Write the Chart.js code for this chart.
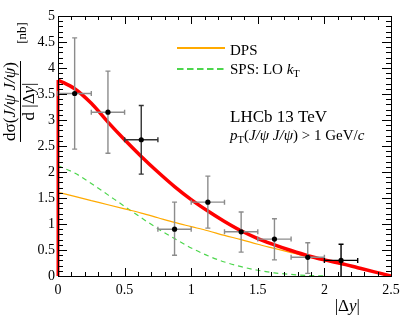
<!DOCTYPE html>
<html>
<head>
<meta charset="utf-8">
<script src="https://cdn.jsdelivr.net/npm/chart.js@4.4.0/dist/chart.umd.min.js"></script>
<style>
  html, body { margin: 0; padding: 0; background: #fff; }
  canvas { display: block; }
</style>
</head>
<body>
<canvas id="chart" width="412" height="329"></canvas>
<script>
// measured points: bin centres in |dy|, cross-section [nb] and error band
const binCentres = [0.125, 0.375, 0.625, 0.875, 1.125, 1.375, 1.625, 1.875, 2.125];
const binHalfWidth = 0.125;
const crossSection = [3.51, 3.15, 2.62, 0.90, 1.42, 0.85, 0.71, 0.36, 0.30];
const errHigh = [4.58, 3.94, 3.28, 1.42, 1.92, 1.23, 1.10, 0.64, 0.61];
const errLow = [2.44, 2.36, 1.96, 0.40, 0.92, 0.46, 0.31, 0.05, 0.00];

// theory curves, sampled on the same grid
const curveX = [0, 0.125, 0.25, 0.375, 0.5, 0.625, 0.75, 0.875, 1.0, 1.125, 1.25,
                1.375, 1.5, 1.625, 1.75, 1.875, 2.0, 2.125, 2.25, 2.375, 2.5];
const totalCurve = [3.77, 3.60, 3.32, 2.96, 2.62, 2.30, 2.00, 1.72, 1.47, 1.25, 1.05,
                    0.87, 0.72, 0.60, 0.49, 0.39, 0.31, 0.24, 0.16, 0.08, 0.00];
const dpsCurve = [1.61, 1.53, 1.45, 1.37, 1.29, 1.21, 1.12, 1.03, 0.95, 0.87, 0.78,
                  0.70, 0.61, 0.53, 0.45, 0.37, 0.30, 0.23, 0.15, 0.08, 0.00];
const spsCurve = [2.12, 1.98, 1.78, 1.56, 1.34, 1.12, 0.91, 0.72, 0.54, 0.39, 0.27,
                  0.18, 0.11, 0.06, 0.03, 0.01, 0.00];

const legendLabels = ['DPS', 'SPS: LO '];

const COLORS = {
    total: '#ff0000',
    dps: '#ffaa00',
    sps: '#4cd64c',
    errGray: '#8c8c8c',
    errDark: '#333333',
    black: '#000000'
};
const errColours = binCentres.map((c, i) => (i === 2 ? COLORS.errDark : i === binCentres.length - 1 ? COLORS.black : COLORS.errGray));

const SERIF = '"Liberation Serif", "DejaVu Serif", serif';

function toPoints(xs, ys) {
    return ys.map((v, i) => ({ x: xs[i], y: v }));
}

// rich text: parts = [[text, style]], style has 'i' for italic, 's' for subscript
function richWidth(ctx, parts, size) {
    let w = 0;
    parts.forEach(([t, st]) => {
        const fs = st.includes('s') ? size * 0.7 : size;
        ctx.font = (st.includes('i') ? 'italic ' : '') + fs + 'px ' + SERIF;
        w += ctx.measureText(t).width;
    });
    return w;
}

function drawRich(ctx, parts, x, y, size) {
    let cx = x;
    parts.forEach(([t, st]) => {
        const sub = st.includes('s');
        const fs = sub ? size * 0.7 : size;
        ctx.font = (st.includes('i') ? 'italic ' : '') + fs + 'px ' + SERIF;
        ctx.fillText(t, cx, y + (sub ? size * 0.22 : 0));
        cx += ctx.measureText(t).width;
    });
}

const errorBarPlugin = {
    id: 'errorBars',
    beforeDatasetDraw(chart, args) {
        if (args.index !== 0) return;
        const { ctx, scales: { x, y } } = chart;
        ctx.save();
        ctx.lineWidth = 1.4;
        binCentres.forEach((c, i) => {
            const px = x.getPixelForValue(c);
            const py = y.getPixelForValue(crossSection[i]);
            const x0 = x.getPixelForValue(c - binHalfWidth);
            const x1 = x.getPixelForValue(c + binHalfWidth);
            const yTop = y.getPixelForValue(errHigh[i]);
            const yBot = y.getPixelForValue(errLow[i]);
            ctx.strokeStyle = errColours[i];
            ctx.beginPath();
            ctx.moveTo(x0, py); ctx.lineTo(x1, py);
            ctx.moveTo(px, yTop); ctx.lineTo(px, yBot);
            ctx.moveTo(x0, py - 2.5); ctx.lineTo(x0, py + 2.5);
            ctx.moveTo(x1, py - 2.5); ctx.lineTo(x1, py + 2.5);
            ctx.moveTo(px - 2.5, yTop); ctx.lineTo(px + 2.5, yTop);
            if (errLow[i] > 0) { ctx.moveTo(px - 2.5, yBot); ctx.lineTo(px + 2.5, yBot); }
            ctx.stroke();
        });
        ctx.restore();
    }
};

const framePlugin = {
    id: 'frame',
    afterDraw(chart) {
        const { ctx, chartArea: a, scales: { x, y } } = chart;
        ctx.save();
        ctx.strokeStyle = COLORS.black;
        ctx.lineWidth = 1;
        ctx.strokeRect(a.left + 0.5, a.top + 0.5, a.right - a.left, a.bottom - a.top);

        ctx.beginPath();
        for (let i = 0; i <= 25; i++) {
            const px = Math.round(x.getPixelForValue(i / 10)) + 0.5;
            const len = i % 5 === 0 ? 8 : 4;
            ctx.moveTo(px, a.bottom); ctx.lineTo(px, a.bottom - len);
            ctx.moveTo(px, a.top); ctx.lineTo(px, a.top + len);
        }
        for (let i = 0; i <= 50; i++) {
            const py = Math.round(y.getPixelForValue(i / 10)) + 0.5;
            const len = i % 5 === 0 ? 9 : 5;
            ctx.moveTo(a.left, py); ctx.lineTo(a.left + len, py);
            ctx.moveTo(a.right, py); ctx.lineTo(a.right - len, py);
        }
        ctx.stroke();

        // legend
        ctx.lineWidth = 2;
        ctx.strokeStyle = COLORS.dps;
        ctx.beginPath(); ctx.moveTo(177, 48); ctx.lineTo(225, 48); ctx.stroke();
        ctx.strokeStyle = COLORS.sps;
        ctx.setLineDash([6.5, 3.5]);
        ctx.beginPath(); ctx.moveTo(177, 69); ctx.lineTo(225, 69); ctx.stroke();
        ctx.setLineDash([]);

        ctx.fillStyle = COLORS.black;
        ctx.textAlign = 'left';
        ctx.textBaseline = 'alphabetic';
        drawRich(ctx, [[legendLabels[0], '']], 230, 54.5, 15);
        drawRich(ctx, [[legendLabels[1], ''], ['k', 'i'], ['T', 's']], 230, 74, 15);

        drawRich(ctx, [['LHCb 13 TeV', '']], 230, 122, 17);
        drawRich(ctx, [['p', 'i'], ['T', 's'], ['(', ''], ['J/\u03c8 J/\u03c8', 'i'], [') > 1 GeV/', ''], ['c', 'i']], 230, 140, 15);

        // x title
        const xt = [['|\u0394', ''], ['y', 'i'], ['|', '']];
        drawRich(ctx, xt, 360 - richWidth(ctx, xt, 17), 311, 17);

        // y title, rotated fraction
        const num = [['d\u03c3(', ''], ['J/\u03c8 J/\u03c8', 'i'], [')', '']];
        const den = [['d |\u0394', ''], ['y', 'i'], ['|', '']];
        const cy = 101.5;
        ctx.save();
        ctx.translate(15, cy);
        ctx.rotate(-Math.PI / 2);
        const wn = richWidth(ctx, num, 17);
        drawRich(ctx, num, -wn / 2, 0, 17);
        ctx.restore();

        ctx.save();
        ctx.translate(34, cy);
        ctx.rotate(-Math.PI / 2);
        const wd = richWidth(ctx, den, 17);
        drawRich(ctx, den, -wd / 2, 0, 17);
        ctx.restore();

        ctx.strokeStyle = COLORS.black;
        ctx.lineWidth = 1;
        ctx.beginPath();
        ctx.moveTo(20.5, cy - wn / 2 - 1);
        ctx.lineTo(20.5, cy + wn / 2 + 1);
        ctx.stroke();

        ctx.save();
        ctx.translate(26, 33);
        ctx.rotate(-Math.PI / 2);
        const nb = [['[nb]', '']];
        drawRich(ctx, nb, -richWidth(ctx, nb, 13) / 2, 0, 13);
        ctx.restore();

        ctx.restore();
    }
};

const ctx = document.getElementById('chart').getContext('2d');
new Chart(ctx, {
    type: 'scatter',
    data: {
        datasets: [{
            label: 'LHCb',
            data: toPoints(binCentres, crossSection),
            backgroundColor: COLORS.black,
            borderColor: COLORS.black,
            pointRadius: 2.6,
            pointBorderWidth: 0
        }, {
            label: 'total',
            type: 'line',
            data: toPoints(curveX, totalCurve),
            borderColor: COLORS.total,
            borderWidth: 3.5,
            pointRadius: 0,
            fill: false,
            cubicInterpolationMode: 'monotone'
        }, {
            label: 'total edge',
            type: 'line',
            data: [{ x: curveX[0], y: 0 }, { x: curveX[0], y: totalCurve[0] }],
            borderColor: COLORS.total,
            borderWidth: 3,
            pointRadius: 0,
            clip: false
        }, {
            label: 'DPS',
            type: 'line',
            data: toPoints(curveX, dpsCurve),
            borderColor: COLORS.dps,
            borderWidth: 1.2,
            pointRadius: 0,
            cubicInterpolationMode: 'monotone'
        }, {
            label: 'SPS',
            type: 'line',
            data: toPoints(curveX, spsCurve),
            borderColor: COLORS.sps,
            borderWidth: 1.2,
            borderDash: [5, 4],
            pointRadius: 0,
            cubicInterpolationMode: 'monotone'
        }]
    },
    options: {
        responsive: false,
        animation: false,
        devicePixelRatio: 1,
        layout: { padding: { left: 0, right: 21, top: 16, bottom: 0 } },
        plugins: { legend: { display: false }, tooltip: { enabled: false } },
        scales: {
            x: {
                type: 'linear',
                min: 0,
                max: 2.5,
                grid: { display: false, drawTicks: false },
                border: { display: false },
                afterFit: s => { s.height = 53; },
                ticks: {
                    stepSize: 0.5,
                    autoSkip: false,
                    maxRotation: 0,
                    padding: 6,
                    color: COLORS.black,
                    font: { family: SERIF, size: 14 },
                    callback: v => String(+v.toFixed(1))
                }
            },
            y: {
                min: 0,
                max: 5,
                grid: { display: false, drawTicks: false },
                border: { display: false },
                afterFit: s => { s.width = 58; },
                ticks: {
                    stepSize: 0.5,
                    padding: 3,
                    color: COLORS.black,
                    font: { family: SERIF, size: 14 },
                    callback: v => String(+v.toFixed(1))
                }
            }
        }
    },
    plugins: [errorBarPlugin, framePlugin]
});
</script>
</body>
</html>
